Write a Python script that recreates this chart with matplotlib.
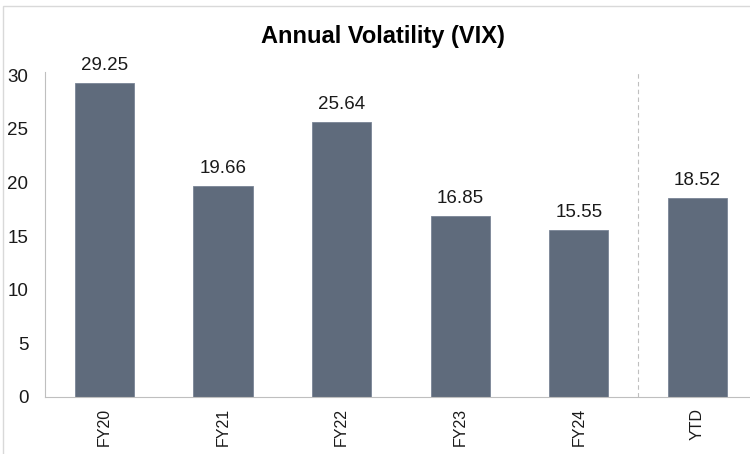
import matplotlib.pyplot as plt
from matplotlib.patches import Rectangle

categories = ["FY20", "FY21", "FY22", "FY23", "FY24", "YTD"]
values = [29.25, 19.66, 25.64, 16.85, 15.55, 18.52]
yticks = [0, 5, 10, 15, 20, 25, 30]

plt.rcParams['font.family'] = ['Liberation Sans', 'DejaVu Sans']

fig = plt.figure(figsize=(7.5, 4.54), dpi=100)
ax = fig.add_axes([0.06, 0.1256, 0.949, 0.716])

x = list(range(len(categories)))
ax.bar(x, values, width=0.5, color='#5F6B7C', edgecolor='#7A8596', linewidth=0.6)

# 数值标签
for xi, v in zip(x, values):
    ax.annotate(f"{v:.2f}", (xi, v), xytext=(0, 9.5), textcoords='offset points',
                ha='center', va='baseline', fontsize=13.5, color='#1a1a1a')

# FY24 与 YTD 之间的虚线
ax.axvline(4.5, color='#BFBFBF', linestyle=(0, (4, 3)), linewidth=0.8)

ax.set_xlim(-0.5, 5.5)
ax.set_ylim(0, 30.3)
ax.set_yticks(yticks)
ax.set_xticks(x)
ax.set_xticklabels(categories, rotation=90)
ax.tick_params(axis='both', length=0, colors='#1a1a1a')
ax.tick_params(axis='y', pad=12, labelsize=13.5)
ax.tick_params(axis='x', pad=8, labelsize=11.5)

for s in ['top', 'right']:
    ax.spines[s].set_visible(False)
for s in ['left', 'bottom']:
    ax.spines[s].set_color('#BFBFBF')
    ax.spines[s].set_linewidth(0.8)

fig.text(0.511, 0.92, "Annual Volatility (VIX)", ha='center', va='center',
         fontsize=17, fontweight='bold', color='#000000')

# 外框
fig.patches.append(Rectangle((3 / 750, -0.1), 1.2, (454 - 6) / 454 + 0.1,
                             transform=fig.transFigure, fill=False,
                             edgecolor='#D9D9D9', linewidth=1))

fig.savefig("out.png", dpi=100)
